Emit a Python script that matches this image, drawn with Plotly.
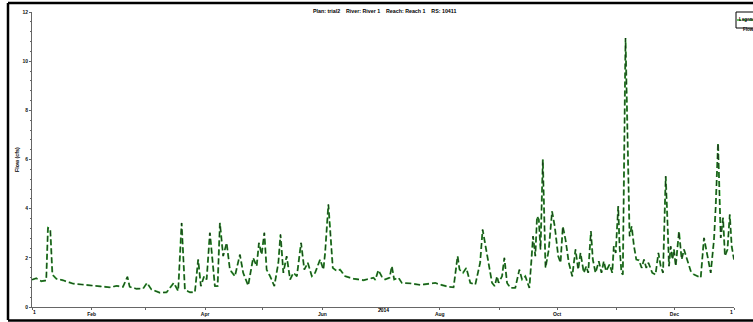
import pandas as pd
import plotly.graph_objects as go

# ---- data (day offset from 2014-01-01, flow) ----
day_offsets = [
    0.0, 2.2, 4.8, 7.4, 8.3, 9.5, 10.6, 12.6, 16.0, 21.3, 26.5, 33.5, 40.4, 44.0, 47.3,
    49.6, 50.8, 54.3, 57.8, 59.8, 62.1, 66.5, 70.0, 73.7, 76.0, 77.8, 79.5, 82.1, 84.7,
    86.4, 87.8, 89.5, 90.8, 92.5, 93.7, 95.1, 96.5, 97.7, 99.4, 101.2, 102.9, 105.5,
    108.1, 109.8, 112.4, 115.0, 116.8, 118.0, 119.4, 120.8, 122.0, 123.8, 126.0, 128.1,
    129.2, 130.7, 132.4, 134.2, 135.9, 137.7, 139.9, 141.6, 143.4, 145.5, 147.2, 149.8,
    151.5, 152.4, 154.1, 155.3, 156.4, 158.5, 160.2, 162.8, 167.2, 172.4, 175.8, 177.6,
    178.5, 180.1, 181.9, 183.6, 185.9, 187.1, 188.3, 190.6, 192.3, 196.7, 201.8, 207.0,
    209.7, 212.3, 216.6, 219.2, 220.1, 221.3, 222.3, 224.1, 225.8, 227.9, 230.5, 233.0,
    234.3, 235.3, 237.4, 239.2, 240.6, 241.8, 242.6, 244.4, 245.6, 247.0, 248.7, 251.3,
    253.4, 254.8, 256.5, 258.6, 259.7, 260.5, 261.7, 262.6, 263.5, 264.4, 265.6, 267.0,
    268.7, 270.4, 271.8, 273.6, 274.8, 276.0, 277.4, 279.1, 280.9, 282.6, 284.0, 285.2,
    286.9, 288.2, 289.2, 290.6, 291.6, 293.0, 294.7, 296.1, 297.3, 298.5, 300.3, 301.7,
    302.5, 303.5, 304.8, 305.5, 306.5, 307.2, 308.6, 309.5, 310.0, 310.7, 311.8, 313.0,
    314.2, 315.6, 317.0, 318.2, 319.4, 320.5, 322.5, 324.2, 325.7, 326.9, 328.1, 329.5,
    330.5, 331.2, 332.1, 333.0, 333.8, 334.7, 336.4, 337.8, 339.0, 340.8, 342.5, 344.2,
    347.7, 349.4, 350.8, 352.9, 354.6, 355.5, 356.7, 358.1, 359.3, 360.3, 361.6, 362.8,
    363.8, 365.0,
]
flow = [
    1.11, 1.17, 1.05, 1.08, 3.22, 3.18, 1.32, 1.15, 1.09, 0.95, 0.91, 0.85, 0.80, 0.86, 0.82,
    1.23, 0.82, 0.74, 0.75, 0.98, 0.71, 0.58, 0.60, 0.98, 0.65, 3.42, 0.70, 0.60, 0.60,
    1.93, 0.85, 1.25, 1.12, 3.02, 2.07, 0.85, 0.85, 3.42, 2.07, 2.61, 1.52, 1.25,
    2.13, 1.39, 0.87, 2.00, 1.66, 2.61, 2.13, 3.02, 1.52, 1.25, 0.85, 1.80,
    2.95, 1.39, 2.07, 1.12, 1.39, 1.25, 2.61, 1.52, 1.80, 1.25, 1.39, 1.93,
    1.52, 2.20, 4.17, 2.74, 1.59, 1.46, 1.52, 1.25, 1.15, 1.09, 1.15, 1.19,
    1.10, 1.50, 1.23, 1.12, 1.19, 1.66, 1.12, 1.19, 0.98, 0.96, 0.90, 0.96,
    0.98, 0.91, 0.82, 0.80, 1.39, 2.07, 1.52, 1.39, 1.59, 0.98, 0.91, 1.80,
    3.15, 2.74, 1.80, 0.98, 0.85, 1.25, 0.98, 1.25, 2.00, 0.98, 0.78, 0.78,
    1.52, 1.12, 1.25, 0.78, 1.93, 2.88, 2.07, 3.69, 3.56, 2.34, 6.00, 1.59,
    2.34, 3.89, 3.28, 2.07, 1.80, 3.28, 2.74, 1.80, 1.25, 2.34, 1.52, 2.20,
    1.39, 1.66, 1.39, 3.08, 1.93, 1.39, 1.86, 1.39, 1.86, 1.46, 1.73, 1.39,
    2.47, 2.20, 4.10, 2.47, 1.39, 1.32, 10.94, 7.62, 4.50, 2.88, 3.28, 2.47,
    1.93, 1.90, 1.59, 1.93, 1.59, 1.80, 1.39, 1.32, 2.20, 1.66, 1.39, 5.32,
    3.28, 1.66, 2.47, 1.93, 2.34, 1.66, 3.08, 1.93, 2.34, 1.93, 1.46, 1.32,
    1.19, 2.81, 2.20, 1.39, 2.74, 4.10, 6.67, 2.81, 3.63, 2.07, 2.34, 3.76,
    2.47, 1.93,
]

start_date = "2014-01-01"
end_date = "2015-01-01"
label_months = ["2014-02-01", "2014-04-01", "2014-06-01", "2014-08-01", "2014-10-01", "2014-12-01"]
label_text = ["Feb", "Apr", "Jun", "Aug", "Oct", "Dec"]
y_ticks = [0, 2, 4, 6, 8, 10, 12]

title_text = "Plan: trial2    River: River 1    Reach: Reach 1    RS: 10411"

dates = pd.Timestamp(start_date) + pd.to_timedelta(day_offsets, unit="D")

GREEN = "#33b033"
fig = go.Figure()
fig.add_trace(go.Scatter(x=dates, y=flow, mode="lines", showlegend=False,
                         line=dict(color=GREEN, width=1.9, dash="6px,3px")))
fig.add_trace(go.Scatter(x=dates, y=flow, mode="lines", showlegend=False,
                         line=dict(color="#1a1a1a", width=0.8, dash="6px,3px")))

W, H = 753, 322
L, R, T, B = 32, 19, 12, 15
pw, ph = W - L - R, H - T - B


def px(x):
    return (x - L) / pw


def py(y):
    return (H - B - y) / ph


FONT = "Liberation Sans, Arial"
tick_font = dict(family=FONT, size=5, color="#111")

fig.update_layout(
    width=W, height=H,
    margin=dict(l=L, r=R, t=T, b=B, autoexpand=False),
    paper_bgcolor="white", plot_bgcolor="white",
    xaxis=dict(type="date", range=[start_date, end_date], showgrid=False, zeroline=False,
               showline=True, linecolor="#666", linewidth=1,
               tickvals=label_months, ticktext=["<b>%s</b>" % t for t in label_text],
               ticks="outside", ticklen=2, tickcolor="#666", tickfont=tick_font,
               minor=dict(dtick="M1", ticks="outside", ticklen=2, tickcolor="#666")),
    yaxis=dict(range=[0, 12], showgrid=False, zeroline=False, showline=True,
               linecolor="#666", linewidth=1, tickvals=y_ticks,
               ticktext=["<b>%d</b>" % v for v in y_ticks], ticks="outside",
               ticklen=2, tickcolor="#666", tickfont=tick_font,
               minor=dict(dtick=0.4, ticks="outside", ticklen=1.5, tickcolor="#666")),
    shapes=[
        # outer frame
        dict(type="line", xref="paper", yref="paper", x0=px(8), x1=px(8), y0=py(3), y1=py(320),
             line=dict(color="black", width=2.5)),
        dict(type="line", xref="paper", yref="paper", x0=px(8), x1=px(760), y0=py(3), y1=py(3),
             line=dict(color="black", width=2.5)),
        dict(type="line", xref="paper", yref="paper", x0=px(8), x1=px(760), y0=py(320.5), y1=py(320.5),
             line=dict(color="black", width=2.5)),
        # legend box
        dict(type="rect", xref="paper", yref="paper", x0=px(736), x1=px(762), y0=py(12), y1=py(28),
             line=dict(color="black", width=1), fillcolor="white"),
        dict(type="line", xref="paper", yref="paper", x0=px(737), x1=px(762), y0=py(20), y1=py(20),
             line=dict(color=GREEN, width=1.5, dash="4px,2px")),
    ],
    annotations=[
        dict(text="<b>" + title_text + "</b>", xref="paper", yref="paper", x=px(385), y=py(6),
             showarrow=False, font=dict(family=FONT, size=5.3, color="black")),
        dict(text="<b>Flow (cfs)</b>", xref="paper", yref="paper", x=px(12), y=py(160), textangle=-90,
             showarrow=False, font=dict(family=FONT, size=5.3, color="black")),
        dict(text="<b>2014</b>", xref="paper", yref="paper", x=px(383), y=py(314.5), showarrow=False,
             font=dict(family=FONT, size=5, color="black")),
        dict(text="<b>1</b>", xref="paper", yref="paper", x=px(31), y=py(316.5), showarrow=False,
             font=dict(family=FONT, size=5, color="black")),
        dict(text="<b>1</b>", xref="paper", yref="paper", x=px(735), y=py(316.5), showarrow=False,
             font=dict(family=FONT, size=5, color="black")),
        dict(text="<b>Legend</b>", xref="paper", yref="paper", x=px(737), y=py(15), xanchor="left",
             showarrow=False, font=dict(family=FONT, size=4.5, color="black")),
        dict(text="<b>Flow</b>", xref="paper", yref="paper", x=px(741), y=py(24.5), xanchor="left",
             showarrow=False, font=dict(family=FONT, size=4.5, color="black")),
    ],
)

fig.write_html("out.html", config={"displayModeBar": False},
               post_script="document.body.style.margin='0';document.body.style.overflow='hidden';")
